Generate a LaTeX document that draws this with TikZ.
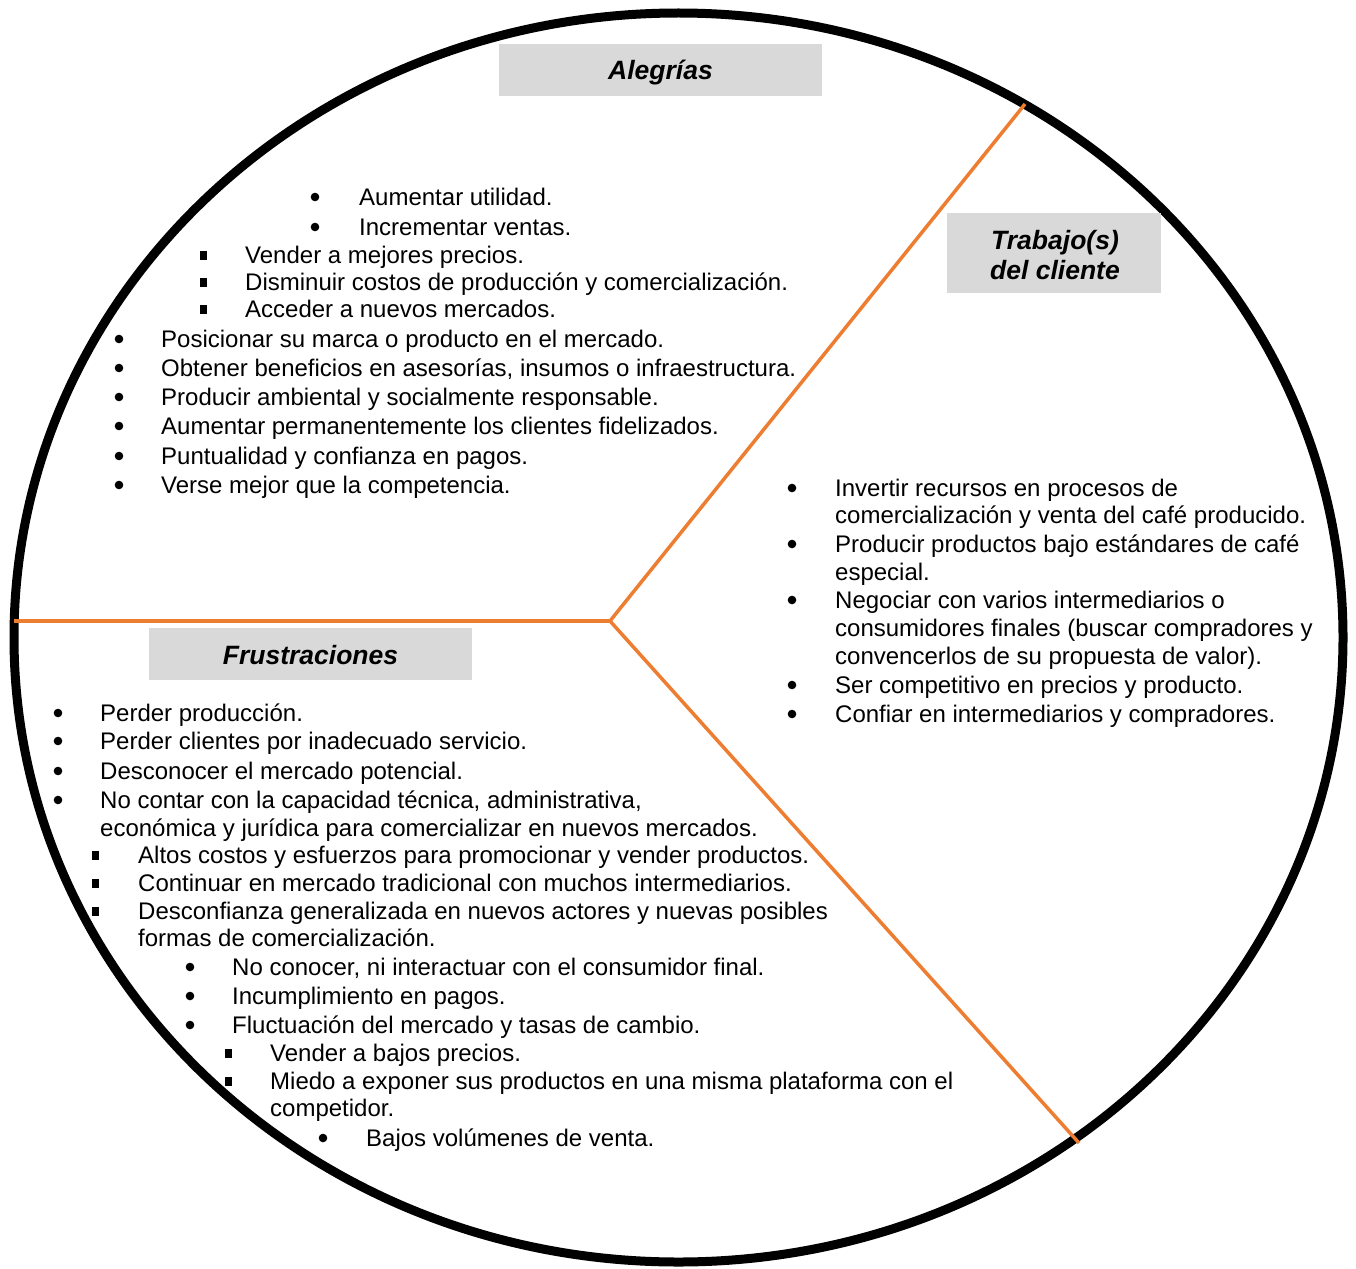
\documentclass[tikz,border=0pt]{standalone}
\usepackage{fontspec}
\setmainfont{Liberation Sans}
\definecolor{orng}{HTML}{ED7D31}
\definecolor{boxgray}{HTML}{D9D9D9}
\begin{document}
\begin{tikzpicture}[x=1pt,y=-1pt,
  txt/.style={anchor=base west,inner sep=0pt,font=\fontsize{24}{29}\selectfont},
  titlebox/.style={fill=boxgray,inner sep=0pt},
  titletxt/.style={inner sep=0pt,font=\fontsize{26.5}{30}\selectfont\bfseries\itshape,align=center},
  divider/.style={draw=orng,line width=3.5pt},
  rim/.style={draw=black,line width=9pt}]
\useasboundingbox (0,0) rectangle (1356,1268);
% round bullet, square bullet
\newcommand\rb[3]{\node[txt] (#1) at (#2,#3) {\phantom{x}};\fill (#2,#3-8) circle (4.3);}
\newcommand\sqb[3]{\node[txt] (#1) at (#2,#3) {\phantom{x}};\fill (#2-3.5,#3-12.5) rectangle (#2+3.5,#3-3.5);}
% rim
\draw[rim] (678.5,637.5) ellipse [x radius=664.5, y radius=624.5];
% dividers
\coordinate (ctr) at (610,621);
\coordinate (eA) at (1025,104);
\coordinate (eB) at (1079,1143);
\coordinate (eC) at (14,621);
\draw[divider] (ctr) -- (eA);
\draw[divider] (ctr) -- (eB);
\draw[divider] (ctr) -- (eC);
% titles
\node[titlebox,minimum width=323,minimum height=52] (tA) at (660.5,70) {};
\node[titletxt] (tAt) at (660.5,73) {Alegrías};
\node[titlebox,minimum width=214,minimum height=80] (tT) at (1054,253) {};
\node[titletxt] (tTt) at (1055,255.5) {Trabajo(s)\\del cliente};
\node[titlebox,minimum width=323,minimum height=52] (tF) at (310.5,654) {};
\node[titletxt] (tFt) at (310.5,655.5) {Frustraciones};
% Alegrías list
\rb{ba1}{315}{205}\node[txt] (a1) at (359,205) {Aumentar utilidad.};
\rb{ba2}{315}{235}\node[txt] (a2) at (359,235) {Incrementar ventas.};
\sqb{ba3}{203}{263}\node[txt] (a3) at (245,263) {Vender a mejores precios.};
\sqb{ba4}{203}{290}\node[txt] (a4) at (245,290) {Disminuir costos de producción y comercialización.};
\sqb{ba5}{203}{317}\node[txt] (a5) at (245,317) {Acceder a nuevos mercados.};
\rb{ba6}{119}{347}\node[txt] (a6) at (161,347) {Posicionar su marca o producto en el mercado.};
\rb{ba7}{119}{376}\node[txt] (a7) at (161,376) {Obtener beneficios en asesorías, insumos o infraestructura.};
\rb{ba8}{119}{405}\node[txt] (a8) at (161,405) {Producir ambiental y socialmente responsable.};
\rb{ba9}{119}{434}\node[txt] (a9) at (161,434) {Aumentar permanentemente los clientes fidelizados.};
\rb{ba10}{119}{464}\node[txt] (a10) at (161,464) {Puntualidad y confianza en pagos.};
\rb{ba11}{119}{493}\node[txt] (a11) at (161,493) {Verse mejor que la competencia.};
% Trabajo list
\rb{bt1}{792}{496}\node[txt] (t1) at (835,496) {Invertir recursos en procesos de};
\node[txt] (t1b) at (835,523) {comercialización y venta del café producido.};
\rb{bt2}{792}{552}\node[txt] (t2) at (835,552) {Producir productos bajo estándares de café};
\node[txt] (t2b) at (835,580) {especial.};
\rb{bt3}{792}{608}\node[txt] (t3) at (835,608) {Negociar con varios intermediarios o};
\node[txt] (t3b) at (835,636) {consumidores finales (buscar compradores y};
\node[txt] (t3c) at (835,664) {convencerlos de su propuesta de valor).};
\rb{bt4}{792}{693}\node[txt] (t4) at (835,693) {Ser competitivo en precios y producto.};
\rb{bt5}{792}{722}\node[txt] (t5) at (835,722) {Confiar en intermediarios y compradores.};
% Frustraciones list
\rb{bf1}{58}{721}\node[txt] (f1) at (100,721) {Perder producción.};
\rb{bf2}{58}{749}\node[txt] (f2) at (100,749) {Perder clientes por inadecuado servicio.};
\rb{bf3}{58}{779}\node[txt] (f3) at (100,779) {Desconocer el mercado potencial.};
\rb{bf4}{58}{808}\node[txt] (f4) at (100,808) {No contar con la capacidad técnica, administrativa,};
\node[txt] (f4b) at (100,836) {económica y jurídica para comercializar en nuevos mercados.};
\sqb{bf5}{95}{863}\node[txt] (f5) at (138,863) {Altos costos y esfuerzos para promocionar y vender productos.};
\sqb{bf6}{95}{891}\node[txt] (f6) at (138,891) {Continuar en mercado tradicional con muchos intermediarios.};
\sqb{bf7}{95}{919}\node[txt] (f7) at (138,919) {Desconfianza generalizada en nuevos actores y nuevas posibles};
\node[txt] (f7b) at (138,946) {formas de comercialización.};
\rb{bf8}{190}{975}\node[txt] (f8) at (232,975) {No conocer, ni interactuar con el consumidor final.};
\rb{bf9}{190}{1004}\node[txt] (f9) at (232,1004) {Incumplimiento en pagos.};
\rb{bf10}{190}{1033}\node[txt] (f10) at (232,1033) {Fluctuación del mercado y tasas de cambio.};
\sqb{bf11}{228}{1061}\node[txt] (f11) at (270,1061) {Vender a bajos precios.};
\sqb{bf12}{228}{1089}\node[txt] (f12) at (270,1089) {Miedo a exponer sus productos en una misma plataforma con el};
\node[txt] (f12b) at (270,1116) {competidor.};
\rb{bf13}{323}{1146}\node[txt] (f13) at (366,1146) {Bajos volúmenes de venta.};
\end{tikzpicture}
\end{document}
